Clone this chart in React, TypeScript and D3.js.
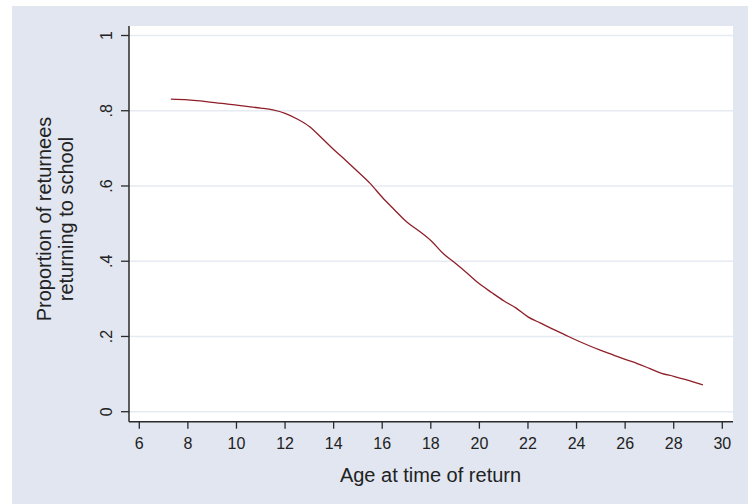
import React from 'react';
import * as d3 from 'd3';

// age at time of return vs. proportion returning to school
const ages = [7.3, 8, 8.5, 9, 9.5, 10, 10.5, 11, 11.5, 12, 12.5, 13, 13.5, 14, 14.5, 15, 15.5, 16, 16.5, 17, 17.5, 18, 18.5, 19, 19.5, 20, 20.5, 21, 21.5, 22, 22.5, 23, 23.5, 24, 24.5, 25, 25.5, 26, 26.5, 27, 27.5, 28, 28.5, 29, 29.2];
const proportions = [0.831, 0.829, 0.826, 0.822, 0.819, 0.815, 0.811, 0.807, 0.802, 0.793, 0.778, 0.758, 0.728, 0.697, 0.668, 0.638, 0.607, 0.57, 0.537, 0.505, 0.481, 0.455, 0.421, 0.395, 0.368, 0.34, 0.317, 0.295, 0.276, 0.252, 0.236, 0.22, 0.205, 0.19, 0.176, 0.163, 0.151, 0.139, 0.128, 0.115, 0.102, 0.094, 0.085, 0.075, 0.071];
const xTicks = [6, 8, 10, 12, 14, 16, 18, 20, 22, 24, 26, 28, 30];
const yTicks = [0, 0.2, 0.4, 0.6, 0.8, 1];
const yTickLabels = ['0', '.2', '.4', '.6', '.8', '1'];

const W = 748;
const H = 504;
const BG = '#e1e6f0';
const GRID = '#e6eaf2';
const LINE = '#8e1f28';
const FONT = '"Liberation Sans", Arial, sans-serif';

const plot = { left: 129, right: 733, top: 26, bottom: 421.7 };

const App = () => {
  const x = d3.scaleLinear().domain([6, 30]).range([139.3, 722.3]);
  const y = d3.scaleLinear().domain([0, 1]).range([411.7, 35.5]);

  const points = ages.map((a, i) => [a, proportions[i]] as [number, number]);
  const line = d3
    .line<[number, number]>()
    .x((d) => x(d[0]))
    .y((d) => y(d[1]))
    .curve(d3.curveMonotoneX);

  return (
    <svg width={W} height={H} style={{ position: 'absolute', left: 0, top: 0 }} fontFamily={FONT}>
      <rect x={0} y={0} width={W} height={H} fill="#ffffff" />
      <rect x={12} y={6} width={W - 12} height={H - 6} fill={BG} />
      <rect x={plot.left} y={plot.top} width={plot.right - plot.left} height={plot.bottom - plot.top} fill="#ffffff" />

      {/* gridlines */}
      {yTicks.map((t) => (
        <line key={'g' + t} x1={plot.left} x2={plot.right} y1={y(t)} y2={y(t)} stroke={GRID} strokeWidth={1.6} />
      ))}

      {/* data line */}
      <path d={line(points) || ''} fill="none" stroke={LINE} strokeWidth={1.3} />

      {/* axes */}
      <line x1={plot.left} x2={plot.left} y1={plot.top} y2={plot.bottom} stroke="#2a2a2a" strokeWidth={1.5} />
      <line x1={plot.left} x2={plot.right} y1={plot.bottom} y2={plot.bottom} stroke="#2a2a2a" strokeWidth={1.5} />

      {yTicks.map((t, i) => (
        <g key={'y' + t}>
          <line x1={plot.left - 8} x2={plot.left} y1={y(t)} y2={y(t)} stroke="#2a2a2a" strokeWidth={1.3} />
          <text
            transform={`translate(${112},${y(t)}) rotate(-90)`}
            textAnchor="middle"
            fontSize={16}
            fill="#222"
          >
            {yTickLabels[i]}
          </text>
        </g>
      ))}

      {xTicks.map((t) => (
        <g key={'x' + t}>
          <line x1={x(t)} x2={x(t)} y1={plot.bottom} y2={plot.bottom + 7} stroke="#2a2a2a" strokeWidth={1.3} />
          <text x={x(t)} y={449} textAnchor="middle" fontSize={16} fill="#222">
            {t}
          </text>
        </g>
      ))}

      <text x={430.5} y={482} textAnchor="middle" fontSize={20} fill="#222">
        Age at time of return
      </text>
      <text transform={`translate(51,219) rotate(-90)`} textAnchor="middle" fontSize={20} fill="#222">
        Proportion of returnees
      </text>
      <text transform={`translate(73,219) rotate(-90)`} textAnchor="middle" fontSize={20} fill="#222">
        returning to school
      </text>
    </svg>
  );
};

export default App;
